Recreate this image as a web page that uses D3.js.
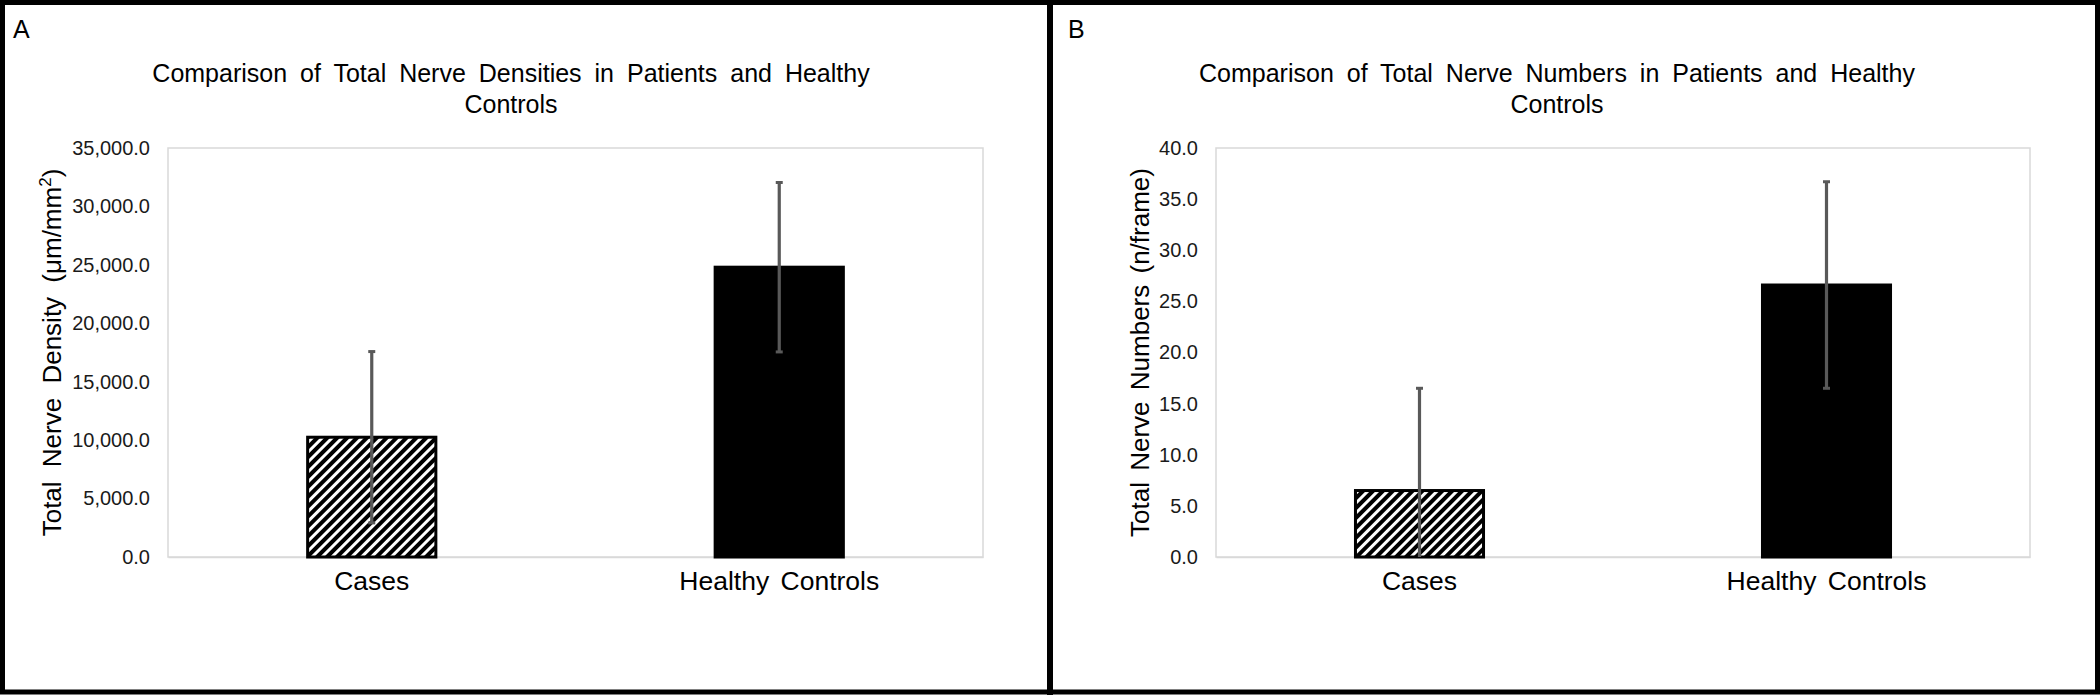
<!DOCTYPE html>
<html>
<head>
<meta charset="utf-8">
<script src="https://cdn.jsdelivr.net/npm/d3@7"></script>
<style>
  html, body { margin: 0; padding: 0; background: #fff; }
  svg { display: block; font-family: "Liberation Sans", Arial, sans-serif; }
</style>
</head>
<body>
<svg id="chart" width="2100" height="695"></svg>
<script>
// ---------- data ----------
const categories = ["Cases", "Healthy Controls"];
const densityMeans = [10250, 24800];
const densityErrors = [7330, 7250];
const numberMeans = [6.5, 26.6];
const numberErrors = [10.0, 10.1];
const densityTicks = [0, 5000, 10000, 15000, 20000, 25000, 30000, 35000];
const numberTicks = [0, 5, 10, 15, 20, 25, 30, 35, 40];
const panelLetters = ["A", "B"];
const densityTitle = ["Comparison of Total Nerve Densities in Patients and Healthy", "Controls"];
const numberTitle = ["Comparison of Total Nerve Numbers in Patients and Healthy", "Controls"];
const densityYLabel = ["Total Nerve Density (μm/mm", "2", ")"];
const numberYLabel = ["Total Nerve Numbers (n/frame)"];

const svg = d3.select("#chart");
const FONT = '"Liberation Sans", Arial, sans-serif';

// hatch pattern (wide upward diagonal)
const defs = svg.append("defs");
const pat = defs.append("pattern")
  .attr("id", "hatch")
  .attr("patternUnits", "userSpaceOnUse")
  .attr("width", 7).attr("height", 7)
  .attr("patternTransform", "rotate(45)");
pat.append("rect").attr("width", 7).attr("height", 7).attr("fill", "#fff");
pat.append("rect").attr("x", 0).attr("y", 0).attr("width", 4).attr("height", 7).attr("fill", "#000");

// frames
svg.append("rect").attr("x", 2.5).attr("y", 2.5).attr("width", 2095).attr("height", 689.5)
  .attr("fill", "none").attr("stroke", "#000").attr("stroke-width", 5);
svg.append("line").attr("x1", 1050).attr("x2", 1050).attr("y1", 0).attr("y2", 695)
  .attr("stroke", "#000").attr("stroke-width", 6);

function panel(cfg) {
  const g = svg.append("g");
  const x = d3.scaleBand().domain(categories).range([cfg.x0, cfg.x1])
    .paddingInner(0.678).paddingOuter(0.339);
  const y = d3.scaleLinear().domain(cfg.domain).range([cfg.yb, cfg.yt]);

  // letter
  g.append("text").attr("x", cfg.letterX).attr("y", 38)
    .attr("font-size", 25).attr("fill", "#000").text(cfg.letter);

  // title
  const t = g.append("text").attr("text-anchor", "middle")
    .attr("font-size", 25).attr("fill", "#000").attr("word-spacing", 6);
  cfg.title.forEach((line, i) => {
    t.append("tspan").attr("x", cfg.titleX).attr("y", 82 + i * 31).text(line);
  });

  // plot area border
  g.append("rect").attr("x", cfg.x0).attr("y", cfg.yt)
    .attr("width", cfg.x1 - cfg.x0).attr("height", cfg.yb - cfg.yt)
    .attr("fill", "none").attr("stroke", "#d9d9d9").attr("stroke-width", 1.5);

  // y axis
  const yAxis = d3.axisLeft(y).tickValues(cfg.ticks).tickFormat(cfg.fmt).tickSize(0).tickPadding(18);
  const ya = g.append("g").attr("transform", `translate(${cfg.x0},0)`).call(yAxis);
  ya.select(".domain").remove();
  ya.selectAll("text").attr("font-size", 20).attr("font-family", FONT).attr("fill", "#1a1a1a");

  // x axis
  const xAxis = d3.axisBottom(x).tickSize(0).tickPadding(14);
  const xa = g.append("g").attr("transform", `translate(0,${cfg.yb})`).call(xAxis);
  xa.select(".domain").attr("stroke", "#d9d9d9").attr("stroke-width", 1.5);
  xa.selectAll("text").attr("font-size", 26.5).attr("font-family", FONT).attr("fill", "#000")
    .attr("word-spacing", 4).attr("dy", "0.71em");

  // bars
  g.selectAll(".bar").data(categories).enter().append("rect")
    .attr("x", d => x(d) + 1.5)
    .attr("y", (d, i) => y(cfg.means[i]))
    .attr("width", x.bandwidth() - 3)
    .attr("height", (d, i) => cfg.yb - y(cfg.means[i]))
    .attr("fill", (d, i) => i === 0 ? "url(#hatch)" : "#000")
    .attr("stroke", "#000").attr("stroke-width", 3);

  // error bars
  categories.forEach((c, i) => {
    const cx = x(c) + x.bandwidth() / 2;
    const lo = Math.max(cfg.domain[0], cfg.means[i] - cfg.errs[i]);
    const hi = cfg.means[i] + cfg.errs[i];
    g.append("line").attr("x1", cx).attr("x2", cx).attr("y1", y(lo)).attr("y2", y(hi))
      .attr("stroke", "#595959").attr("stroke-width", 3.2);
    [hi, lo].forEach((v, k) => {
      if (k === 1 && lo <= cfg.domain[0]) return;
      g.append("line").attr("x1", cx - 3.5).attr("x2", cx + 3.5).attr("y1", y(v)).attr("y2", y(v))
        .attr("stroke", "#595959").attr("stroke-width", 3);
    });
  });

  // y label
  const yl = g.append("text")
    .attr("transform", `translate(${cfg.ylabX},${(cfg.yt + cfg.yb) / 2}) rotate(-90)`)
    .attr("text-anchor", "middle").attr("font-size", 26).attr("fill", "#000").attr("word-spacing", cfg.ylabWS);
  yl.append("tspan").text(cfg.ylab[0]);
  if (cfg.ylab.length > 1) {
    yl.append("tspan").attr("font-size", 17).attr("dy", -10).text(cfg.ylab[1]);
    yl.append("tspan").attr("dy", 10).text(cfg.ylab[2]);
  }
}

panel({
  letter: panelLetters[0], letterX: 13, title: densityTitle, titleX: 511,
  x0: 168, x1: 983, yt: 148, yb: 557,
  domain: [0, 35000], ticks: densityTicks, fmt: d3.format(",.1f"),
  means: densityMeans, errs: densityErrors, ylab: densityYLabel, ylabX: 61, ylabWS: 7
});
panel({
  letter: panelLetters[1], letterX: 1068, title: numberTitle, titleX: 1557,
  x0: 1216, x1: 2030, yt: 148, yb: 557,
  domain: [0, 40], ticks: numberTicks, fmt: d3.format(".1f"),
  means: numberMeans, errs: numberErrors, ylab: numberYLabel, ylabX: 1149, ylabWS: 4
});
</script>
</body>
</html>
